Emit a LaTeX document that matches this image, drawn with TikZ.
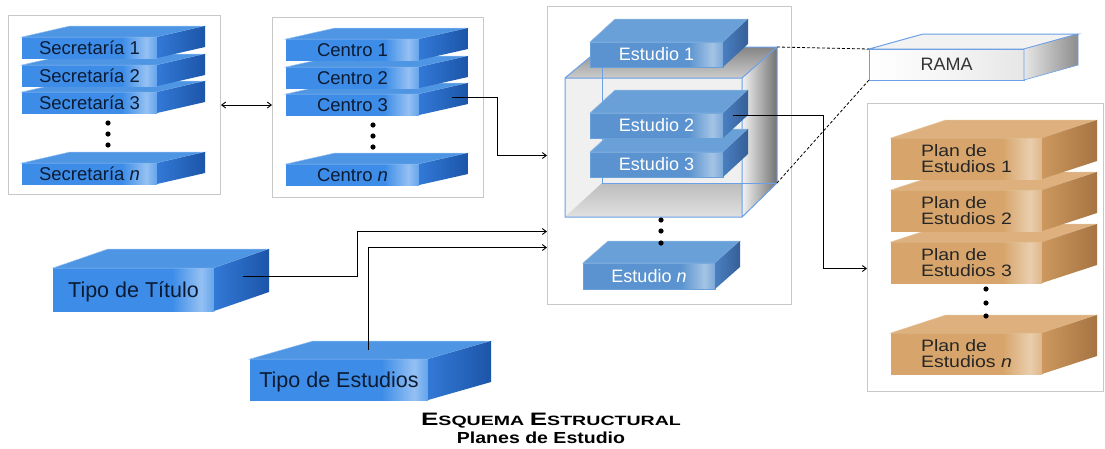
\documentclass[tikz,border=0pt]{standalone}
\usepackage{fontspec}
\setmainfont{Liberation Sans}
\newfontfamily\widesans[FakeStretch=1.18]{Liberation Sans}
\newfontfamily\titlefont[FakeStretch=1.45]{Liberation Sans}
\newfontfamily\subtitlefont[FakeStretch=1.22]{Liberation Sans}
\usetikzlibrary{arrows.meta,calc}

\definecolor{bluebase}{HTML}{3D8DE8}
\definecolor{bluetop}{HTML}{4E95E3}
\definecolor{blueside}{HTML}{3279D6}
\definecolor{bluedark}{HTML}{1C55A8}
\definecolor{studybase}{HTML}{5A93CF}
\definecolor{studytop}{HTML}{6AA0D8}
\definecolor{studyside}{HTML}{4A7FC0}
\definecolor{studydark}{HTML}{355F98}
\definecolor{planbase}{HTML}{D7A56B}
\definecolor{plantop}{HTML}{DDB07E}
\definecolor{planside}{HTML}{CC985E}
\definecolor{plandark}{HTML}{A67443}
\definecolor{ramabase}{HTML}{E6E6E6}
\definecolor{cubeedge}{HTML}{6B9FE6}
\definecolor{panelgray}{HTML}{C8C8C8}
\definecolor{labelnavy}{HTML}{0B1B33}

% front faces: flat colour with a soft light spot near the right end
\pgfdeclarehorizontalshading{bluefront}{100bp}{color(0bp)=(bluebase); color(25bp)=(bluebase);
  color(62bp)=(bluebase); color(71bp)=(bluebase!55!white); color(75bp)=(bluebase!80!white); color(100bp)=(bluebase!80!white)}
\pgfdeclarehorizontalshading{studyfront}{100bp}{color(0bp)=(studybase); color(25bp)=(studybase);
  color(62bp)=(studybase); color(71bp)=(studybase!55!white); color(75bp)=(studybase!80!white); color(100bp)=(studybase!80!white)}
\pgfdeclarehorizontalshading{planfront}{100bp}{color(0bp)=(planbase); color(25bp)=(planbase);
  color(62bp)=(planbase); color(71bp)=(planbase!55!white); color(75bp)=(planbase!80!white); color(100bp)=(planbase!80!white)}
\pgfdeclarehorizontalshading{ramafront}{100bp}{color(0bp)=(white); color(25bp)=(white);
  color(50bp)=(ramabase!40!white); color(75bp)=(ramabase); color(100bp)=(ramabase)}

% slab: front face as a node, top and side faces behind it
\newcommand\slab[8][blue]{%
  \node[#1 front, minimum width=#4pt, minimum height=#5pt] (#2) at (#3) {#8};
  \path[#1 top] (#2.north west) -- ++(#6pt,#7pt) -- ++(#4pt,0pt) -- (#2.north east) -- cycle;
  \shade[#1 side] (#2.north east) -- ++(#6pt,#7pt) -- ++(0pt,-#5pt) -- (#2.south east) -- cycle;
}
\newcommand\capE{{\fontsize{18}{18}\selectfont E}}

\begin{document}
\begin{tikzpicture}[
    x=1pt, y=-1pt,
    >={Straight Barb[length=4pt,width=6pt]},
    panel/.style={draw=panelgray, line width=1pt, fill=white, anchor=north west, inner sep=0pt},
    slab/.style={anchor=north west, inner sep=0pt, outer sep=0pt},
    blue front/.style={slab, shading=bluefront, text=labelnavy,
                       font=\fontsize{18.5}{19}\selectfont, text height=13.2pt, text depth=0pt},
    blue top/.style={fill=bluetop, draw=bluebase!55!white, line width=0.5pt},
    blue side/.style={left color=blueside, right color=bluedark},
    tipo front/.style={blue front, font=\fontsize{21.5}{22}\selectfont, text height=15.4pt},
    tipo top/.style={blue top},
    tipo side/.style={blue side},
    study front/.style={slab, shading=studyfront, text=white, draw=studytop, line width=0.5pt,
                        font=\fontsize{18}{18}\selectfont, text height=12.9pt, text depth=0pt},
    study top/.style={fill=studytop, draw=studytop!70!white, line width=0.5pt},
    study side/.style={left color=studyside, right color=studydark},
    plan front/.style={slab, shading=planfront, text=black!85, align=left,
                       font=\widesans\fontsize{16.5}{16}\selectfont},
    plan top/.style={fill=plantop, draw=planbase!70!white, line width=0.5pt},
    plan side/.style={left color=planside, right color=plandark},
    rama front/.style={slab, shading=ramafront, draw=cubeedge, line width=1pt, text=black!80,
                       font=\fontsize{18}{18}\selectfont, text height=12.9pt, text depth=0pt},
    rama top/.style={fill=ramabase!50!white, draw=cubeedge, line width=1pt},
    rama side/.style={left color=ramabase, right color=black!45, draw=cubeedge, line width=0.6pt},
    link/.style={line width=0.9pt},
    tie/.style={line width=0.8pt, dash pattern=on 3pt off 2pt},
    dot/.style={fill=black},
  ]
  \fill[white] (0,0) rectangle (1105,448);
  \useasboundingbox (0,0) rectangle (1105,448);

  % panels
  \node[panel, minimum width=212pt, minimum height=179pt] (secbox) at (8,15) {};
  \node[panel, minimum width=211pt, minimum height=180pt] (cenbox) at (272,17) {};
  \node[panel, minimum width=244pt, minimum height=298pt] (study) at (547,6) {};
  \node[panel, minimum width=236pt, minimum height=288pt] (plans) at (867,103) {};

  % secretarias
  \slab{sn}{22,163}{135}{21}{48}{11}{Secretaría \textit{n}}
  \slab{s3}{22,92}{135}{21}{48}{11}{Secretaría 3}
  \slab{s2}{22,65}{135}{21}{48}{11}{Secretaría 2}
  \slab{s1}{22,37}{135}{21}{48}{11}{Secretaría 1}
  \foreach \y in {123,134,145} \fill[dot] (108,\y) circle (2.6pt);

  % centros
  \slab{cn}{286,164}{133}{21}{49}{11}{Centro \textit{n}}
  \slab{c3}{286,94}{133}{21}{49}{11}{Centro 3}
  \slab{c2}{286,67}{133}{21}{49}{11}{Centro 2}
  \slab{c1}{286,39}{133}{21}{49}{11}{Centro 1}
  \foreach \y in {125,136,147} \fill[dot] (373,\y) circle (2.6pt);

  % cube holding the estudios
  \fill[black!6] (565,78) rectangle (742,217);
  \shade[top color=black!26, bottom color=black!12] (565,217) -- (602,183) -- (777,183) -- (742,217) -- cycle;
  \shade[top color=black!48, bottom color=black!20] (565,78) -- (602,47) -- (777,47) -- (742,78) -- cycle;
  \shade[left color=black!5, right color=black!55] (742,78) -- (777,47) -- (777,183) -- (742,217) -- cycle;
  \draw[cubeedge, line width=1pt] (602,47) -- (602,183) -- (777,183);
  \draw[cubeedge, line width=1pt] (565,78) rectangle (742,217)
    (565,78) -- (602,47) -- (777,47) -- (742,78) (777,47) -- (777,183) -- (742,217);
  \coordinate (cubetop) at (777,47);
  \coordinate (cubebot) at (777,183);

  % estudios
  \slab[study]{e1}{590,42}{133}{25}{25}{23}{Estudio 1}
  \slab[study]{e3}{590,152}{133}{25}{25}{23}{Estudio 3}
  \slab[study]{e2}{590,113}{133}{25}{25}{23}{Estudio 2}
  \slab[study]{en}{583,263}{132}{26}{25}{22}{Estudio \textit{n}}
  \foreach \y in {220,231,243} \fill[dot] (661,\y) circle (2.6pt);

  % rama
  \slab[rama]{rama}{869,49}{155}{31}{54}{15}{RAMA}

  % planes de estudios
  \slab[plan]{pn}{891,333}{151}{41}{55}{18}{Plan de\\Estudios \textit{n}}
  \slab[plan]{p3}{891,242}{151}{41}{55}{18}{Plan de\\Estudios 3}
  \slab[plan]{p2}{891,190}{151}{41}{55}{18}{Plan de\\Estudios 2}
  \slab[plan]{p1}{891,138}{151}{41}{55}{18}{Plan de\\Estudios 1}
  \foreach \y in {289,303,316} \fill[dot] (986,\y) circle (2.6pt);

  % tipos
  \slab[tipo]{tt}{53,268}{161}{43}{55}{19}{Tipo de Título}
  \slab[tipo]{te}{250,359}{178}{41}{63}{18}{Tipo de Estudios}

  % connectors
  \draw[link, <->] (secbox.east) -- (secbox.east -| cenbox.west);
  \draw[link, ->] ([xshift=33pt,yshift=7pt]c3.east) -- ++(45pt,0pt) |- (study.west);
  \draw[link, ->] ([xshift=29pt,yshift=13pt]tt.east) -- ++(114pt,0pt) |- ([yshift=-76pt]study.west);
  \draw[link, ->] ([xshift=29pt,yshift=9pt]te.north) |- ([yshift=-92pt]study.west);
  \draw[link, ->] ([xshift=10pt,yshift=10pt]e2.east) -- ++(90pt,0pt) |- ([yshift=-21pt]plans.west);
  \draw[tie] (cubetop) -- (rama.north west);
  \draw[tie] (cubebot) -- (rama.south west);

  % title
  \node[anchor=base, font=\titlefont\bfseries\fontsize{13.5}{14}\selectfont] (title) at (551,425)
    {\capE SQUEMA \capE STRUCTURAL};
  \node[anchor=base, font=\subtitlefont\bfseries\fontsize{16}{16}\selectfont] (subtitle) at (541,443)
    {Planes de Estudio};
\end{tikzpicture}
\end{document}
